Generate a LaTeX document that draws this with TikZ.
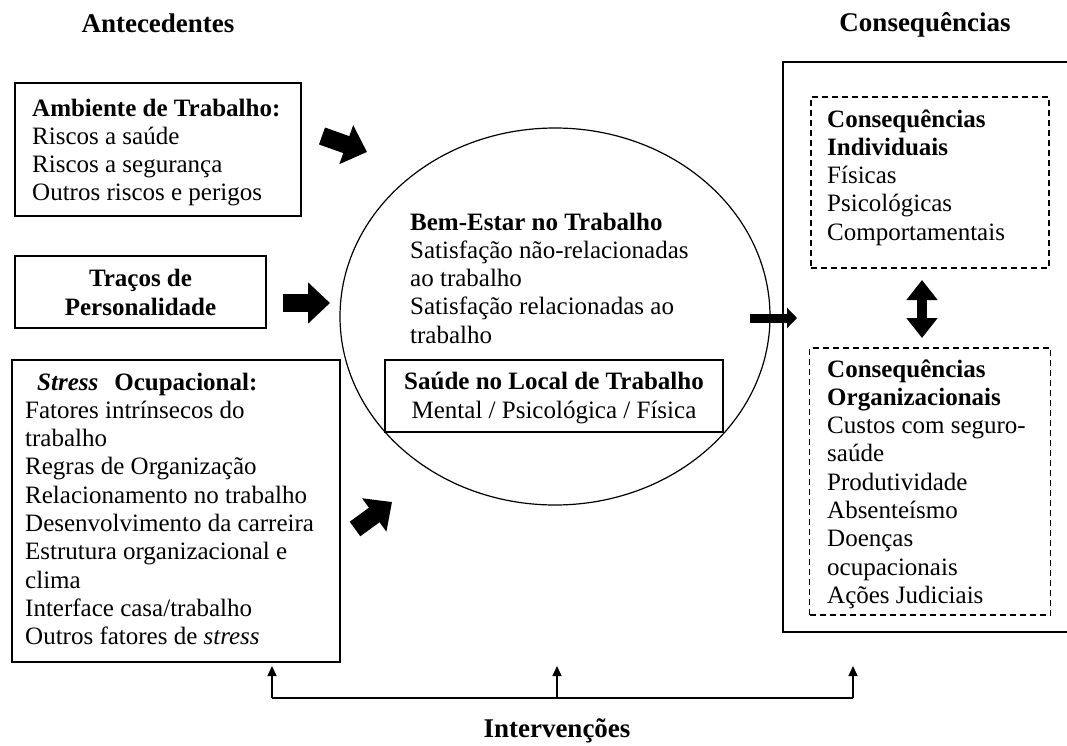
\documentclass[tikz,border=0pt]{standalone}
\usepackage{fontspec}
\setmainfont{Liberation Serif}
\usetikzlibrary{arrows.meta,shapes.geometric}
\begin{document}
\begin{tikzpicture}[x=1pt,y=-1pt,
  every node/.style={inner sep=0pt},
  tfont/.style={font=\fontsize{25}{28.3}\selectfont},
  hfont/.style={font=\fontsize{27}{30}\selectfont\bfseries},
  frame/.style={draw, line width=1.4pt, fill=white},
  dframe/.style={draw, line width=1.3pt, dash pattern=on 6pt off 4pt},
  body/.style={tfont, anchor=north west, align=left},
  fat/.style={line width=18pt, -{Triangle[width=40pt,length=22pt]}},
  slim/.style={line width=9pt, -{Triangle[width=20pt,length=10pt]}},
  twoway/.style={line width=10pt, {Triangle[width=30pt,length=20pt]}-{Triangle[width=30pt,length=20pt]}},
  feed/.style={line width=1.4pt, -{Triangle[width=9pt,length=10pt]}},
]
\useasboundingbox (0,0) rectangle (1067,746);

% column headings
\node[hfont] (hant) at (158,23) {Antecedentes};
\node[hfont] (hcon) at (925,25) {Consequências};
\node[hfont] (hint) at (557,731) {Intervenções};

% antecedents
\node[frame, minimum width=286, minimum height=133] (amb) at (158,149.5) {};
\node[body] (ambt) at (32,96) {\strut\textbf{Ambiente de Trabalho:}\\
  Riscos a saúde\\ Riscos a segurança\\ Outros riscos e perigos};

\node[frame, minimum width=251, minimum height=72] (per) at (140.5,292) {};
\node[tfont, align=center, font=\fontsize{25}{28.3}\selectfont\bfseries] (pert) at (140.5,292.4)
  {Traços de\\ Personalidade};

\node[frame, minimum width=328, minimum height=302] (str) at (176,511) {};
\node[body] (strt) at (25,370) {\strut\hspace{12pt}\textbf{\textit{Stress}}\hspace{16pt}\textbf{Ocupacional:}\\
  Fatores intrínsecos do\\ trabalho\\ Regras de Organização\\
  Relacionamento no trabalho\\ Desenvolvimento da carreira\\
  Estrutura organizacional e\\ clima\\ Interface casa/trabalho\\
  Outros fatores de \textit{stress}};

% well-being at work
\node[draw, ellipse, line width=1.2pt, minimum width=430, minimum height=377] (well) at (555,316.5) {};
\node[body] (wellt) at (410,210) {\strut\textbf{Bem-Estar no Trabalho}\\
  Satisfação não-relacionadas\\ ao trabalho\\
  Satisfação relacionadas ao\\ trabalho};
\node[frame, minimum width=338, minimum height=72] (hea) at (554,396) {};
\node[tfont, align=center] (heat) at (554,398)
  {\textbf{Saúde no Local de Trabalho}\\ Mental / Psicológica / Física};

% consequences
\draw[line width=1.4pt] (1067,62) -- (783,62) -- (783,632) -- (1067,632);
\node[dframe, minimum width=238, minimum height=171] (ind) at (930,182.5) {};
\node[body] (indt) at (827,107) {\strut\textbf{Consequências}\\ \textbf{Individuais}\\
  Físicas\\ Psicológicas\\ Comportamentais};
\node[dframe, minimum width=241, minimum height=267] (org) at (930,481.5) {};
\node[body] (orgt) at (827,357) {\strut\textbf{Consequências}\\ \textbf{Organizacionais}\\
  Custos com seguro-\\ saúde\\ Produtividade\\ Absenteísmo\\ Doenças\\
  ocupacionais\\ Ações Judiciais};

% block arrows
\coordinate (a1s) at (322,136);  \coordinate (a1e) at (367,152);
\coordinate (a2s) at (283,303);  \coordinate (a2e) at (330,303);
\coordinate (a3s) at (355,529);  \coordinate (a3e) at (392,502);
\coordinate (a4s) at (750,318);  \coordinate (a4e) at (797,318);
\coordinate (dbs) at (922,280);  \coordinate (dbe) at (922,338);
\draw[fat] (a1s) -- (a1e);
\draw[fat] (a2s) -- (a2e);
\draw[fat] (a3s) -- (a3e);
\draw[slim] (a4s) -- (a4e);
\draw[twoway] (dbs) -- (dbe);

% interventions feedback
\coordinate (iL) at (272,698); \coordinate (tL) at (272,666);
\coordinate (iM) at (557,698); \coordinate (tM) at (557,666);
\coordinate (iR) at (853,698); \coordinate (tR) at (853,666);
\draw[line width=1.4pt] (iL) -- (iR);
\draw[feed] (iL) -- (tL);
\draw[feed] (iM) -- (tM);
\draw[feed] (iR) -- (tR);
\end{tikzpicture}
\end{document}
